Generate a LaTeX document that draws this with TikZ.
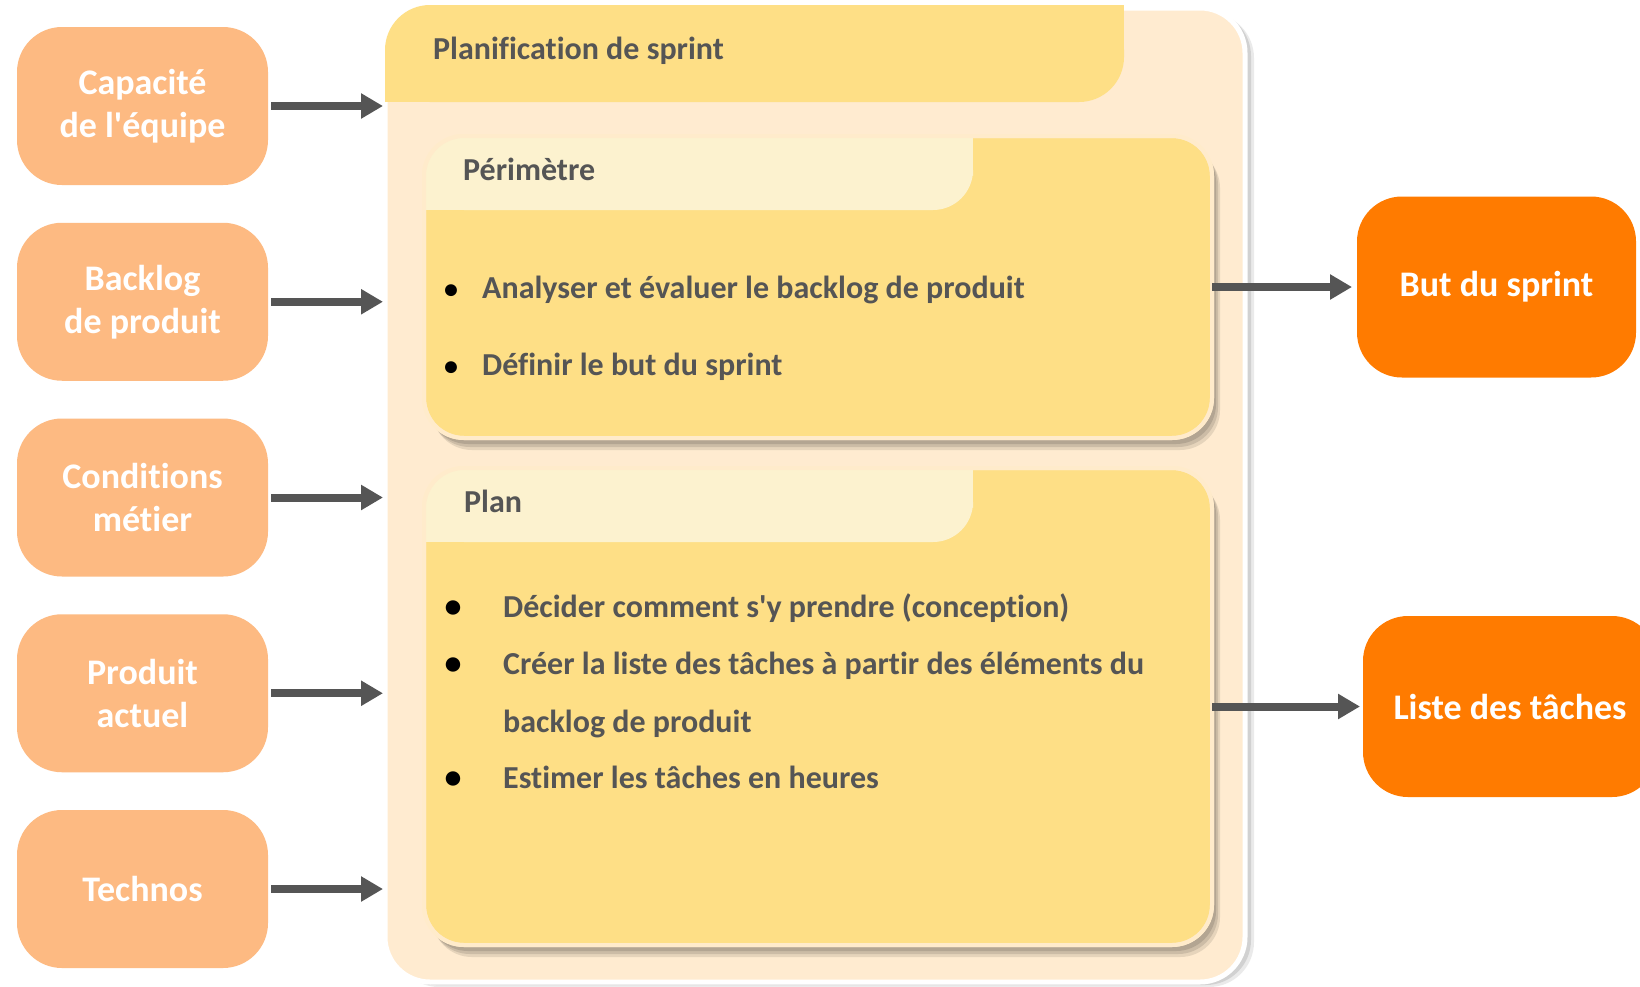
\documentclass[tikz,border=0pt]{standalone}
\usepackage{fontspec}
\setmainfont{Carlito}[Ligatures={TeXOff,CommonOff}]
\usetikzlibrary{arrows.meta,shadows}
\definecolor{lightor}{HTML}{FDBA82}
\definecolor{darkor}{HTML}{FF7B00}
\definecolor{tabyel}{HTML}{FEDF86}
\definecolor{contbg}{HTML}{FFEBD0}
\definecolor{tablight}{HTML}{FCF2CF}
\definecolor{txtgray}{HTML}{555555}
\definecolor{shadowc}{HTML}{9C9080}
\definecolor{borderc}{HTML}{FFEBCB}
\begin{document}
\begin{tikzpicture}[x=1pt,y=-1pt,
  inbox/.style={fill=lightor, rounded corners=45pt, minimum width=251pt, minimum height=158pt,
    align=center, text=white, font=\fontsize{36}{43}\selectfont\bfseries, inner sep=0pt, outer sep=0pt},
  outbox/.style={fill=darkor, rounded corners=45pt, minimum height=181pt,
    align=center, text=white, font=\fontsize{36}{43}\selectfont\bfseries, inner sep=0pt, outer sep=0pt},
  container/.style={fill=contbg, draw=white, line width=5pt, rounded corners=45pt, inner sep=0pt, outer sep=0pt,
    minimum width=860pt, minimum height=974pt,
    drop shadow={shadow xshift=9pt, shadow yshift=-5pt, fill=black!40, opacity=0.2},
    drop shadow={shadow xshift=6pt, shadow yshift=-3pt, fill=black!40, opacity=0.3}},
  section/.style={fill=tabyel, draw=borderc, line width=4pt, rounded corners=40pt, inner sep=0pt, outer sep=0pt,
    minimum width=788pt,
    drop shadow={shadow xshift=8pt, shadow yshift=-12pt, fill=shadowc, opacity=0.25},
    drop shadow={shadow xshift=6pt, shadow yshift=-9pt, fill=shadowc, opacity=0.35},
    drop shadow={shadow xshift=4pt, shadow yshift=-6pt, fill=shadowc, opacity=0.5}},
  ttl/.style={text=txtgray, font=\fontsize{32}{38}\selectfont\bfseries, inner sep=0pt, anchor=base west},
  item/.style={text=txtgray, font=\fontsize{32}{38}\selectfont\bfseries, inner sep=0pt, anchor=base west},
  dot/.style={text=black, font=\fontsize{28}{34}\selectfont\bfseries, inner sep=0pt, anchor=base},
  bigdot/.style={text=black, font=\fontsize{34}{34}\selectfont\bfseries, inner sep=0pt, anchor=base},
  arr/.style={draw=txtgray, line width=8pt, -{Triangle[length=22pt,width=24pt]}}]
\useasboundingbox (0,0) rectangle (1640,986);
\fill[white] (0,0) rectangle (1640,986);

% container
\node[container] (cont) at (815,495) {};
% title tab
\fill[tabyel, rounded corners=45pt] (385,5) rectangle (1124,102);
\fill[tabyel] (385,60) rectangle (480,102);
\fill[tabyel] (1030,5) rectangle (1124,50);
\node[ttl] (title) at (433,59) {Planification de sprint};

% sections
\node[section, minimum height=302pt] (perim) at (818,287) {};
\fill[tablight, rounded corners=40pt] (424,136) rectangle (973,210);
\fill[tablight] (424,175) rectangle (470,210);
\fill[tablight] (930,136) rectangle (973,175);
\draw[borderc, line width=4pt, rounded corners=40pt] (perim.north west) rectangle (perim.south east);
\node[ttl] (perimt) at (463,180) {Périmètre};

\node[section, minimum height=477pt] (plan) at (818,706.5) {};
\fill[tablight, rounded corners=40pt] (424,468) rectangle (973,542);
\fill[tablight] (424,505) rectangle (470,542);
\fill[tablight] (930,468) rectangle (973,505);
\draw[borderc, line width=4pt, rounded corners=40pt] (plan.north west) rectangle (plan.south east);
\node[ttl] (plant) at (464,512) {Plan};

% items
\node[dot] (d1) at (451,298) {\textbullet};
\node[item] (i1) at (482,298) {Analyser et évaluer le backlog de produit};
\node[dot] (d2) at (451,375) {\textbullet};
\node[item] (i2) at (482,375) {Définir le but du sprint};

\node[bigdot] (d3) at (453,617) {\textbullet};
\node[item] (i3) at (503,617) {Décider comment s'y prendre (conception)};
\node[bigdot] (d4) at (453,674) {\textbullet};
\node[item] (i4) at (503,674) {Créer la liste des tâches à partir des éléments du};
\node[item] (i4b) at (503,732) {backlog de produit};
\node[bigdot] (d5) at (453,788) {\textbullet};
\node[item] (i5) at (503,788) {Estimer les tâches en heures};

% left inputs
\node[inbox] (cap) at (142.5,106) {Capacité\\de l'équipe};
\node[inbox] (back) at (142.5,301.75) {Backlog\\de produit};
\node[inbox] (cond) at (142.5,497.5) {Conditions\\métier};
\node[inbox] (prod) at (142.5,693.25) {Produit\\actuel};
\node[inbox] (tech) at (142.5,889) {Technos};

\foreach \n in {cap,back,cond,prod,tech}
  \draw[arr, shorten <=3pt, shorten >=2pt] (\n.east) -- (\n.east -| cont.west);

% outputs
\node[outbox, minimum width=279pt] (but) at (1496.5,287) {But du sprint};
\node[outbox, minimum width=294pt] (liste) at (1510,706.5) {Liste des tâches};
\draw[arr, shorten >=5pt] (perim.east) -- (but.west);
\draw[arr, shorten >=3pt] (plan.east) -- (liste.west);
\end{tikzpicture}
\end{document}
